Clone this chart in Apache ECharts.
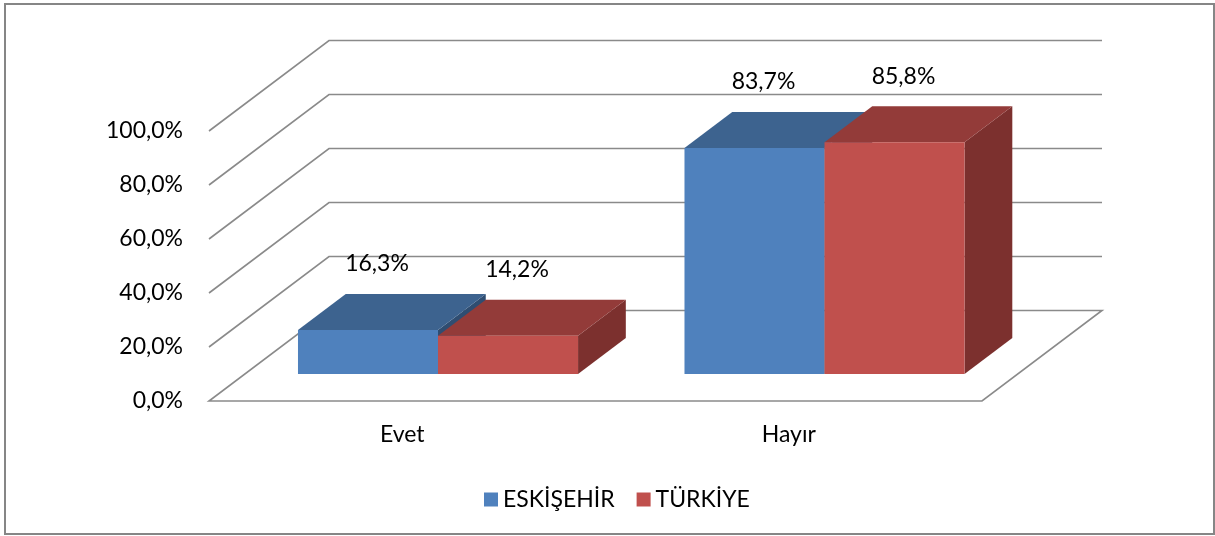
<!DOCTYPE html>
<html>
<head>
<meta charset="utf-8">
<script src="https://cdn.jsdelivr.net/npm/echarts@6/dist/echarts.min.js"></script>
<style>
html,body{margin:0;padding:0;background:#fff;}
#chart{width:1215px;height:536px;}
</style>
</head>
<body>
<div id="chart"></div>
<script>
// ---- data ----
const categories = ['Evet', 'Hayır'];
const seriesNames = ['ESKİŞEHİR', 'TÜRKİYE'];
const eskisehir = [16.3, 83.7];
const turkiye = [14.2, 85.8];
const yTicks = [0, 20, 40, 60, 80, 100];

// ---- style / layout constants ----
const FONT = 'Lato';
const DX = 120, DY = -90.5;          // depth vector of the 3D floor
const Z0 = 0.298, DZ = 0.398;         // bar depth start and depth extent
const BAR_RATIO = 0.3623;             // bar width as fraction of band
const GRID_COLOR = '#8a8a8a';
const COLORS = [
  {front: '#4F81BD', top: '#3D638F', side: '#2F4D71'},
  {front: '#C0504D', top: '#933B39', side: '#7C302E'}
];

function fmt(v) { return v.toFixed(1).replace('.', ',') + '%'; }

const chart = echarts.init(document.getElementById('chart'), null, {renderer: 'canvas'});

function gridRender(params, api) {
  const cs = params.coordSys;
  const v = api.value(1);
  const y = api.coord([0, v])[1];
  const x0 = cs.x, x1 = cs.x + cs.width;
  const style = {stroke: GRID_COLOR, lineWidth: 1.6, fill: null};
  if (v === 0) {
    return {
      type: 'polygon',
      shape: {points: [[x0, y], [x1, y], [x1 + DX, y + DY], [x0 + DX, y + DY]]},
      style: style
    };
  }
  return {
    type: 'polyline',
    shape: {points: [[x0, y], [x0 + DX, y + DY], [x1 + DX, y + DY]]},
    style: style
  };
}

function barRender(sIdx) {
  return function (params, api) {
    const c = COLORS[sIdx];
    const cat = api.value(0), val = api.value(1);
    const base = api.coord([cat, 0]);
    const top = api.coord([cat, val]);
    const band = api.size([1, 0])[0];
    const bw = band * BAR_RATIO;
    const sx = DX * Z0, sy = DY * Z0;
    const ddx = DX * DZ, ddy = DY * DZ;
    const left = (sIdx === 0 ? base[0] - bw : base[0]) + sx;
    const right = left + bw;
    const by = base[1] + sy, ty = top[1] + sy;
    return {
      type: 'group',
      children: [
        {type: 'polygon', shape: {points: [[right, ty], [right + ddx, ty + ddy], [right + ddx, by + ddy], [right, by]]},
         style: {fill: c.side}},
        {type: 'polygon', shape: {points: [[left, ty], [right, ty], [right + ddx, ty + ddy], [left + ddx, ty + ddy]]},
         style: {fill: c.top}},
        {type: 'rect', shape: {x: left, y: ty, width: bw, height: by - ty},
         style: {fill: c.front}},
        {type: 'text', x: (left + right) / 2 + 9, y: ty - 66,
         style: {text: fmt(val), font: '23px ' + FONT, fill: '#000', align: 'center', verticalAlign: 'middle'}}
      ]
    };
  };
}

const option = {
  animation: false,
  backgroundColor: '#fff',
  textStyle: {fontFamily: FONT},
  graphic: [{
    type: 'rect', shape: {x: 5, y: 4, width: 1209, height: 530},
    style: {fill: null, stroke: '#868686', lineWidth: 2}, z: 0
  }],
  legend: {
    data: seriesNames,
    left: 479, top: 483,
    icon: 'rect', itemWidth: 14, itemHeight: 14, itemGap: 22,
    textStyle: {fontFamily: FONT, fontSize: 23, color: '#000'}
  },
  grid: {left: 209, right: 233, top: 131, bottom: 135, outerBoundsMode: 'none', containLabel: false},
  xAxis: {
    type: 'category', data: categories,
    axisLine: {show: false}, axisTick: {show: false}, splitLine: {show: false},
    axisLabel: {fontFamily: FONT, fontSize: 23, color: '#000', margin: 22}
  },
  yAxis: {
    type: 'value', min: 0, max: 100, interval: 20,
    axisLine: {show: false}, axisTick: {show: false}, splitLine: {show: false},
    axisLabel: {fontFamily: FONT, fontSize: 23, color: '#000', margin: 26, formatter: fmt}
  },
  series: [
    {type: 'custom', name: 'grid', renderItem: gridRender, clip: false, silent: true,
     data: yTicks.map(v => [0, v]), z: 1},
    {type: 'custom', name: seriesNames[0], renderItem: barRender(0), clip: false,
     itemStyle: {color: COLORS[0].front},
     data: eskisehir.map((v, i) => [i, v]), z: 2},
    {type: 'custom', name: seriesNames[1], renderItem: barRender(1), clip: false,
     itemStyle: {color: COLORS[1].front},
     data: turkiye.map((v, i) => [i, v]), z: 3}
  ]
};
chart.setOption(option);
</script>
</body>
</html>
